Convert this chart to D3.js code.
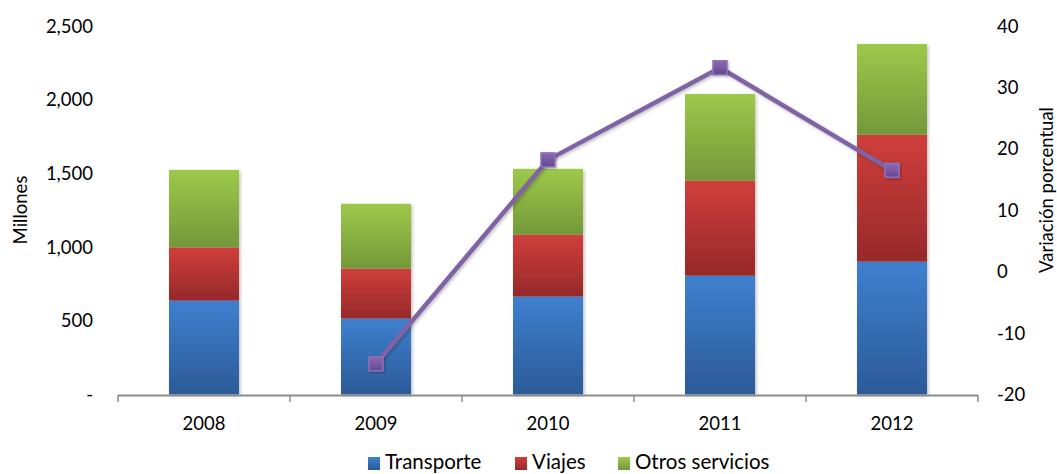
<!DOCTYPE html>
<html><head><meta charset="utf-8">
<script src="https://cdn.jsdelivr.net/npm/d3@7"></script>
<style>body{margin:0;background:#fff;} svg{display:block;font-family:Lato,"Open Sans",sans-serif;}</style>
</head><body>
<svg id="chart" width="1057" height="474"></svg>
<script>
const years = ["2008","2009","2010","2011","2012"];
const transporte = [637, 515, 664, 806, 901];
const viajes = [361, 339, 420, 644, 861];
const otros = [526, 440, 447, 589, 616];
const variacion = [null, -15.0, 18.2, 33.2, 16.5];
const leftTicks = [0, 500, 1000, 1500, 2000, 2500];
const rightTicks = [-20, -10, 0, 10, 20, 30, 40];
const seriesNames = ["Transporte", "Viajes", "Otros servicios"];

const svg = d3.select("#chart");
const x = d3.scaleBand().domain(years).range([118, 978]).paddingInner(0.593).paddingOuter(0.2965);
const y = d3.scaleLinear().domain([0, 2500]).range([394.5, 26]);
const y2 = d3.scaleLinear().domain([-20, 40]).range([394.5, 26]);

const defs = svg.append("defs");
const grads = [["gBlue","#3e80cf","#2c5a98"],["gRed","#d03e3b","#96292a"],["gGreen","#9dc94a","#74983a"],["gPurple","#8a6bb3","#654790"]];
grads.forEach(([id,c1,c2])=>{
  const g = defs.append("linearGradient").attr("id",id).attr("x1",0).attr("y1",0).attr("x2",0).attr("y2",1);
  g.append("stop").attr("offset","0%").attr("stop-color",c1);
  g.append("stop").attr("offset","100%").attr("stop-color",c2);
});
const f = defs.append("filter").attr("id","sh").attr("x","-20%").attr("y","-20%").attr("width","140%").attr("height","140%");
f.append("feDropShadow").attr("dx",1.5).attr("dy",1.5).attr("stdDeviation",1.5).attr("flood-color","#000").attr("flood-opacity",0.25);

const data = years.map((yr,i)=>({year:yr, Transporte:transporte[i], Viajes:viajes[i], "Otros servicios":otros[i]}));
const stack = d3.stack().keys(seriesNames)(data);
const fills = ["url(#gBlue)","url(#gRed)","url(#gGreen)"];

const bars = svg.append("g").attr("filter","url(#sh)");
stack.forEach((layer,li)=>{
  bars.append("g").selectAll("rect").data(layer).join("rect")
    .attr("x", d=>x(d.data.year))
    .attr("width", x.bandwidth())
    .attr("y", d=>y(d[1]))
    .attr("height", d=>y(d[0])-y(d[1]))
    .attr("fill", fills[li]);
});

// bottom axis
const axG = svg.append("g");
axG.append("line").attr("x1",118).attr("x2",978).attr("y1",395.5).attr("y2",395.5).attr("stroke","#8c8c8c").attr("stroke-width",2);
const bounds = d3.range(years.length+1).map(i=>118 + i*x.step());
axG.selectAll(".tk").data(bounds).join("line")
  .attr("x1",d=>d).attr("x2",d=>d).attr("y1",395).attr("y2",402)
  .attr("stroke","#8c8c8c").attr("stroke-width",1.5);
axG.selectAll(".yl").data(years).join("text")
  .attr("x",d=>x(d)+x.bandwidth()/2).attr("y",430)
  .attr("text-anchor","middle").attr("font-size",18.5).attr("fill","#000").text(d=>d);

const fmt = d3.format(",");
svg.append("g").selectAll("text").data(leftTicks).join("text")
  .attr("x",93).attr("y",d=>y(d)+6.5).attr("text-anchor","end")
  .attr("font-size",18.5).attr("fill","#000").text(d=>d===0?"-":fmt(d));
svg.append("g").selectAll("text").data(rightTicks).join("text")
  .attr("x",997).attr("y",d=>y2(d)+6.5).attr("text-anchor","start")
  .attr("font-size",18.5).attr("fill","#000").text(d=>d);

svg.append("text").attr("transform","translate(27,210) rotate(-90)").attr("text-anchor","middle")
  .attr("font-size",18.5).attr("fill","#000").text("Millones");
svg.append("text").attr("transform","translate(1053,190) rotate(-90)").attr("text-anchor","middle")
  .attr("font-size",18.5).attr("fill","#000").text("Variación porcentual");

const pts = years.map((yr,i)=>({year:yr,v:variacion[i]})).filter(d=>d.v!==null);
const line = d3.line().x(d=>x(d.year)+x.bandwidth()/2).y(d=>y2(d.v));
svg.append("path").datum(pts).attr("d",line).attr("fill","none")
  .attr("stroke","#8063a4").attr("stroke-width",4.5).attr("stroke-linejoin","round").attr("filter","url(#sh)");
svg.append("g").selectAll("rect").data(pts).join("rect")
  .attr("x",d=>x(d.year)+x.bandwidth()/2-7).attr("y",d=>y2(d.v)-7)
  .attr("width",14).attr("height",14)
  .attr("fill","url(#gPurple)").attr("stroke","#8f72b8").attr("stroke-width",1.5).attr("filter","url(#sh)");

const legendItems = [{n:seriesNames[0],x:368,f:fills[0]},{n:seriesNames[1],x:515,f:fills[1]},{n:seriesNames[2],x:618,f:fills[2]}];
const lg = svg.append("g");
legendItems.forEach(it=>{
  lg.append("rect").attr("x",it.x).attr("y",457).attr("width",12).attr("height",13).attr("fill",it.f);
  lg.append("text").attr("x",it.x+17).attr("y",469).attr("font-size",20.5).attr("fill","#000").text(it.n);
});
</script>
</body></html>
